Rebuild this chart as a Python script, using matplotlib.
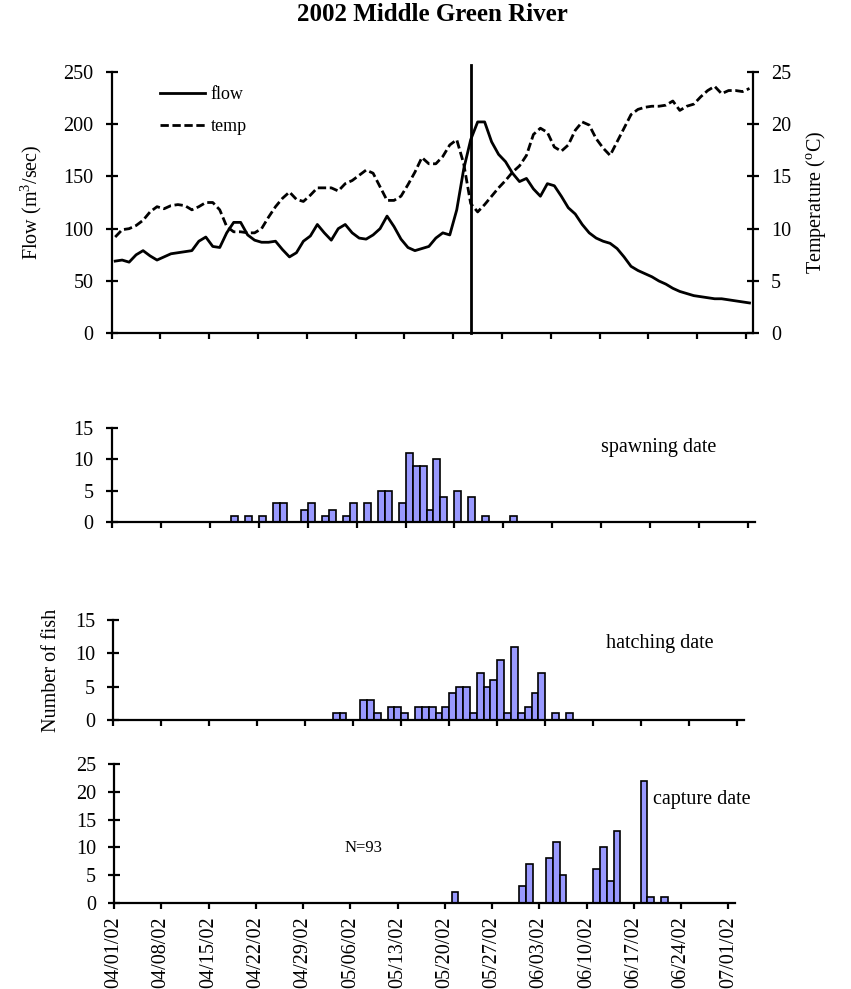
import matplotlib
matplotlib.use("Agg")
import matplotlib.pyplot as plt
from matplotlib.ticker import FixedLocator

plt.rcParams["font.family"] = "Liberation Serif"
plt.rcParams["mathtext.fontset"] = "custom"
plt.rcParams["mathtext.rm"] = "Liberation Serif"

# days since 04/01/02
tick_days = list(range(0, 92, 7))
tick_labels = ["04/01/02", "04/08/02", "04/15/02", "04/22/02", "04/29/02", "05/06/02", "05/13/02",
               "05/20/02", "05/27/02", "06/03/02", "06/10/02", "06/17/02", "06/24/02", "07/01/02"]

# daily flow (m3/sec), 04/01 .. 07/01
flow = [69, 70, 68, 75, 79, 74, 70, 73, 76, 77, 78, 79, 88, 92, 83, 82, 96, 106, 106, 94,
        89, 87, 87, 88, 80, 73, 77, 88, 93, 104, 96, 89, 100, 104, 96, 91, 90, 94, 100, 112,
        102, 90, 82, 79, 81, 83, 91, 96, 94, 118, 157, 185, 202, 202, 183, 171, 164, 153, 145, 148,
        138, 131, 143, 141, 131, 120, 114, 104, 96, 91, 88, 86, 81, 73, 64, 60, 57, 54, 50, 47,
        43, 40, 38, 36, 35, 34, 33, 33, 32, 31, 30, 29]

# daily water temperature (C)
temp = [9.2, 9.9, 10.0, 10.3, 10.8, 11.6, 12.1, 11.9, 12.2, 12.3, 12.2, 11.8, 12.1, 12.5, 12.5,
        11.8, 10.2, 9.7, 9.7, 9.6, 9.6, 10.0, 11.1, 12.1, 12.9, 13.5, 12.8, 12.6, 13.2, 13.9,
        13.9, 13.9, 13.6, 14.3, 14.6, 15.1, 15.6, 15.3, 14.0, 12.7, 12.7, 13.1, 14.2, 15.4, 16.8,
        16.2, 16.2, 16.9, 18.0, 18.5, 16.2, 12.4, 11.6, 12.3, 13.1, 13.9, 14.6, 15.4, 16.0, 17.0,
        19.0, 19.6, 19.2, 17.8, 17.4, 18.0, 19.4, 20.2, 19.9, 18.6, 17.7, 17.0, 18.3, 19.6, 20.9,
        21.4, 21.6, 21.7, 21.7, 21.8, 22.2, 21.3, 21.7, 21.9, 22.6, 23.2, 23.6, 22.9, 23.2, 23.2,
        23.1, 23.4]

peak_day = 51

spawn_days = [17, 19, 21, 23, 24, 27, 28, 30, 31, 33, 34, 36, 38, 39, 41, 42, 43, 44, 45, 46,
              47, 49, 51, 53, 57]
spawn_n = [1, 1, 1, 3, 3, 2, 3, 1, 2, 1, 3, 3, 5, 5, 3, 11, 9, 9, 2, 10, 4, 5, 4, 1, 1]

hatch_days = [32, 33, 36, 37, 38, 40, 41, 42, 44, 45, 46, 47, 48, 49, 50, 51, 52, 53, 54, 55,
              56, 57, 58, 59, 60, 61, 62, 64, 66]
hatch_n = [1, 1, 3, 3, 1, 2, 2, 1, 2, 2, 2, 1, 2, 4, 5, 5, 1, 7, 5, 6, 9, 1, 11, 1, 2, 4, 7, 1, 1]

capture_days = [50, 60, 61, 64, 65, 66, 71, 72, 73, 74, 78, 79, 81]
capture_n = [2, 3, 7, 8, 11, 5, 6, 10, 4, 13, 22, 1, 1]

W, H = 851, 989
fs = 14.5
lw = 1.6
bar_color = "#9999FF"


def px_axes(fig, left, right, top, bottom):
    return fig.add_axes([left / W, 1 - bottom / H, (right - left) / W, (bottom - top) / H])


def style_axis(ax, ymax, ystep, show_labels=False):
    for side in ["top", "right"]:
        ax.spines[side].set_visible(False)
    for side in ["left", "bottom"]:
        ax.spines[side].set_linewidth(lw)
    ax.set_xlim(0, 92)
    ax.set_ylim(0, ymax)
    ax.set_yticks(range(0, ymax + 1, ystep))
    ax.xaxis.set_major_locator(FixedLocator(tick_days))
    ax.tick_params(axis="x", direction="out", length=4, width=lw, pad=6, labelsize=fs)
    ax.tick_params(axis="y", direction="inout", length=8, width=lw, pad=9, labelsize=fs)
    if show_labels:
        ax.set_xticklabels(tick_labels, rotation=90)
    else:
        ax.set_xticklabels([])


fig = plt.figure(figsize=(W / 100, H / 100), dpi=100)

# top panel: flow and temperature
ax = px_axes(fig, 111.7, 753, 71.7, 333.3)
style_axis(ax, 250, 50)
x_mid = [d + 0.5 for d in range(len(flow))]
ax.plot(x_mid, flow, color="black", lw=2, label="flow")
ax2 = ax.twinx()
ax2.plot(x_mid, temp, color="black", lw=2, dashes=(3, 1.3), label="temp")
ax2.set_ylim(0, 25)
ax2.set_yticks(range(0, 26, 5))
for side in ["top", "left", "bottom"]:
    ax2.spines[side].set_visible(False)
ax2.spines["right"].set_linewidth(lw)
ax2.tick_params(axis="y", direction="inout", length=8, width=lw, pad=9, labelsize=fs)
ax.axvline(peak_day + 0.5, ymin=0, ymax=1.025, color="black", lw=2, clip_on=False)
ax.set_ylabel("Flow (m$^3$/sec)", fontsize=fs, labelpad=14)
ax2.set_ylabel("Temperature ($^{\\rm o}$C)", fontsize=fs, labelpad=9)
h1, l1 = ax.get_legend_handles_labels()
h2, l2 = ax2.get_legend_handles_labels()
ax.legend(h1 + h2, l1 + l2, loc="upper left", bbox_to_anchor=(0.075, 0.945), frameon=False,
          fontsize=13, handlelength=2.5, handletextpad=0.3, borderpad=0, borderaxespad=0,
          labelspacing=0.85)
fig.text(0.508, 0.997, "2002 Middle Green River", ha="center", va="top",
         fontsize=18, fontweight="bold")

# spawning date
ax_s = px_axes(fig, 111.7, 755.3, 427.7, 522.3)
style_axis(ax_s, 15, 5)
ax_s.bar(spawn_days, spawn_n, width=1, align="edge", color=bar_color, edgecolor="black", lw=1.2)
ax_s.text(70, 11.8, "spawning date", fontsize=fs, va="center", ha="left")

# hatching date
ax_h = px_axes(fig, 113.3, 744.2, 620, 720)
style_axis(ax_h, 15, 5)
ax_h.bar(hatch_days, hatch_n, width=1, align="edge", color=bar_color, edgecolor="black", lw=1.2)
ax_h.text(71.8, 11.5, "hatching date", fontsize=fs, va="center", ha="left")
ax_h.set_ylabel("Number of fish", fontsize=fs, labelpad=10)

# capture date
ax_c = px_axes(fig, 114, 735, 764.3, 902.7)
style_axis(ax_c, 25, 5, show_labels=True)
ax_c.bar(capture_days, capture_n, width=1, align="edge", color=bar_color, edgecolor="black", lw=1.2)
ax_c.text(79.9, 18.6, "capture date", fontsize=fs, va="center", ha="left")
ax_c.text(34.2, 9.9, "N=%d" % sum(capture_n), fontsize=12, va="center", ha="left")

fig.savefig("out.png", dpi=100)
